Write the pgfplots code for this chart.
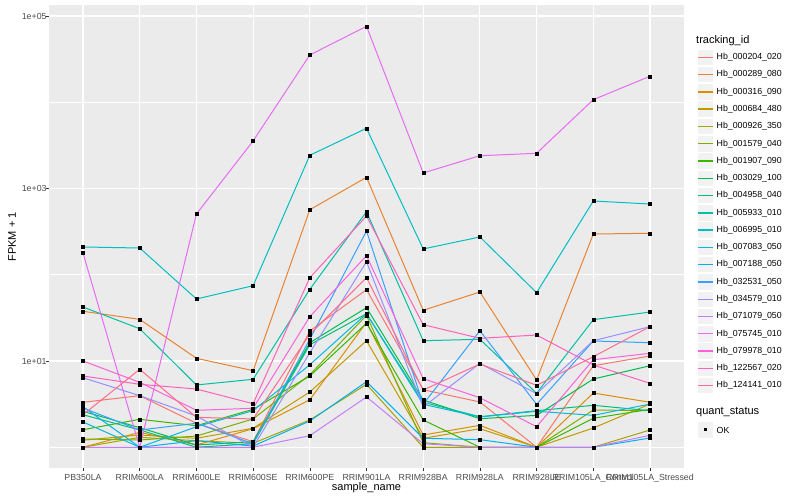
\documentclass[border=0pt]{standalone}
\usepackage{fontspec}
\setmainfont{Liberation Sans}
\usepackage{pgfplots}
\usepackage{pgfplotstable}
\pgfplotsset{compat=1.18}
\definecolor{c1}{HTML}{F8766D}
\definecolor{c2}{HTML}{EA8331}
\definecolor{c3}{HTML}{D89000}
\definecolor{c4}{HTML}{C09B00}
\definecolor{c5}{HTML}{A3A500}
\definecolor{c6}{HTML}{7CAE00}
\definecolor{c7}{HTML}{39B600}
\definecolor{c8}{HTML}{00BB4E}
\definecolor{c9}{HTML}{00BF7D}
\definecolor{c10}{HTML}{00C1A3}
\definecolor{c11}{HTML}{00BFC4}
\definecolor{c12}{HTML}{00BAE0}
\definecolor{c13}{HTML}{00B0F6}
\definecolor{c14}{HTML}{35A2FF}
\definecolor{c15}{HTML}{9590FF}
\definecolor{c16}{HTML}{C77CFF}
\definecolor{c17}{HTML}{E76BF3}
\definecolor{c18}{HTML}{FA62DB}
\definecolor{c19}{HTML}{FF62BC}
\definecolor{c20}{HTML}{FF6C91}
\definecolor{panel}{HTML}{EBEBEB}
\definecolor{keybg}{HTML}{F2F2F2}
\definecolor{grey20}{HTML}{333333}
\definecolor{grey30}{HTML}{4D4D4D}
% log10(FPKM + 1) per sample (rows) and transcript (columns)
\pgfplotstableread{
x  s1    s2    s3    s4    s5    s6    s7    s8    s9    s10   s11   s12   s13   s14   s15   s16   s17   s18   s19   s20
0  0.521 1.576 0     0.081 0     0.096 0.203 0.417 0.377 1.626 2.322 0.293 0.470 0.455 0.806 0     2.252 1.000 0.826 0.377
1  0.598 1.483 0.173 0.142 0.115 0.084 0.324 0.227 0.200 1.374 2.310 0     0     0.200 0.598 0     0     0.753 0.730 0.904
2  0.278 1.031 0.026 0.104 0.076 0.130 0.250 0.026 0     0.722 1.719 0.238 0.076 0.278 0.362 0     2.704 0.428 0.675 0.347
3  0.064 0.888 0.215 0.220 0.046 0.328 0.440 0.064 0.041 0.788 1.873 0.424 0.014 0.041 0     0     3.551 0.452 0.505 0.328
4  1.348 2.754 0.551 0.641 0.316 0.841 0.826 1.212 1.189 1.831 3.385 0.957 0.304 1.252 1.096 0.134 4.548 1.514 1.966 1.310
5  1.827 3.130 1.449 1.235 0.730 1.530 1.437 1.618 1.548 2.731 3.698 1.548 0.760 2.507 2.151 0.583 4.880 2.221 2.681 1.966
6  0.667 1.588 0.142 0.104 0     0.053 0.316 0.548 0.521 1.235 2.299 0.498 0.104 0.498 0.467 0.041 3.180 0.795 1.421 0.664
7  0.525 1.800 0.254 0.215 0     0     0     0.331 0.354 1.252 2.438 0.351 0.088 1.351 0.973 0     3.380 0.574 1.263 0.965
8  0     0.780 0     0     0     0     0     0.370 0.424 0.626 1.792 0.417 0     0.498 0.621 0     3.408 0.238 1.301 0.718
9  0.945 2.472 0.629 0.223 0     0.432 0.336 0.791 0.486 1.479 2.855 0.370 0     1.232 1.235 0     4.030 1.015 0.954 1.050
10 1.058 2.481 0.521 0.501 0.200 0.424 0.440 0.945 0.424 1.568 2.820 0.501 0.107 1.212 1.398 0.139 4.301 1.089 0.741 1.398
}\datatable
\begin{document}
\begin{tikzpicture}[x=1pt,y=1pt]
\useasboundingbox (0,0) rectangle (800,500);
\fill[white] (0,0) rectangle (800,500);
\begin{axis}[
  at={(49pt,31.7pt)}, anchor=south west,
  scale only axis, width=635pt, height=463pt,
  xmin=-0.6, xmax=10.6, ymin=-0.244, ymax=5.124,
  xtick={0,...,10},
  xticklabels={PB350LA,RRIM600LA,RRIM600LE,RRIM600SE,RRIM600PE,RRIM901LA,RRIM928BA,RRIM928LA,RRIM928LE,RRIM105LA\_Control,RRIM105LA\_Stressed},
  ytick={1,3,5}, yticklabels={1e+01,1e+03,1e+05},
  minor ytick={0,2,4},
  xmajorgrids, ymajorgrids, yminorgrids,
  major grid style={white, line width=1.07pt},
  minor grid style={white, line width=0.53pt},
  axis background/.style={fill=panel},
  axis line style={draw=none},
  tick pos=left, tick align=outside,
  major tick length=2.75pt, minor tick length=0pt,
  tick style={color=grey20, line width=0.53pt},
  ticklabel style={font=\fontsize{8.8}{10}\selectfont, text=grey30},
  xticklabel style={anchor=north, inner sep=0pt, yshift=-3pt},
  yticklabel style={anchor=east, inner sep=0pt, xshift=0.5pt},
  xlabel={sample\_name}, ylabel={FPKM + 1},
  label style={font=\fontsize{11}{13}\selectfont, text=black},
  xlabel style={at={(axis description cs:0.5,0)}, anchor=base, yshift=-22.2pt},
  ylabel style={at={(axis description cs:0,0.5)}, anchor=center, yshift=37pt},
]
\pgfplotsinvokeforeach{1,...,20}{
  \addplot[color=c#1, line width=1pt, no markers] table[x=x, y=s#1]{\datatable};
}
\pgfplotsinvokeforeach{1,...,20}{
  \addplot[only marks, mark=square*, mark size=1.5pt, black] table[x=x, y=s#1]{\datatable};
}
\end{axis}
% legend: tracking_id
\node[anchor=west, inner sep=0pt, font=\fontsize{11}{13}\selectfont] at (696,459.3) {tracking\_id};
\foreach \i/\name [count=\k from 0] in {1/Hb\_000204\_020,2/Hb\_000289\_080,3/Hb\_000316\_090,4/Hb\_000684\_480,5/Hb\_000926\_350,6/Hb\_001579\_040,7/Hb\_001907\_090,8/Hb\_003029\_100,9/Hb\_004958\_040,10/Hb\_005933\_010,11/Hb\_006995\_010,12/Hb\_007083\_050,13/Hb\_007188\_050,14/Hb\_032531\_050,15/Hb\_034579\_010,16/Hb\_071079\_050,17/Hb\_075745\_010,18/Hb\_079978\_010,19/Hb\_122567\_020,20/Hb\_124141\_010}{
  \pgfmathsetmacro{\yy}{500-57.3-17.28*\k}
  \fill[keybg] (697,\yy-8.64) rectangle (714.28,\yy+8.64);
  \draw[white, line width=0.8pt] (697.4,\yy-8.24) rectangle (713.88,\yy+8.24);
  \draw[color=c\i, line width=1.42pt] (698.2,\yy) -- (713.1,\yy);
  \node[anchor=west, inner sep=0pt, font=\fontsize{8.8}{10}\selectfont] at (716.5,\yy) {\name};
}
% legend: quant_status
\node[anchor=west, inner sep=0pt, font=\fontsize{11}{13}\selectfont] at (696,88) {quant\_status};
\fill[keybg] (697,61.4) rectangle (714.28,78.68);
\draw[white, line width=0.8pt] (697.4,61.8) rectangle (713.88,78.28);
\fill[black] (704.14,68.54) rectangle (707.14,71.54);
\node[anchor=west, inner sep=0pt, font=\fontsize{8.8}{10}\selectfont] at (716.5,70) {OK};
\end{tikzpicture}
\end{document}
